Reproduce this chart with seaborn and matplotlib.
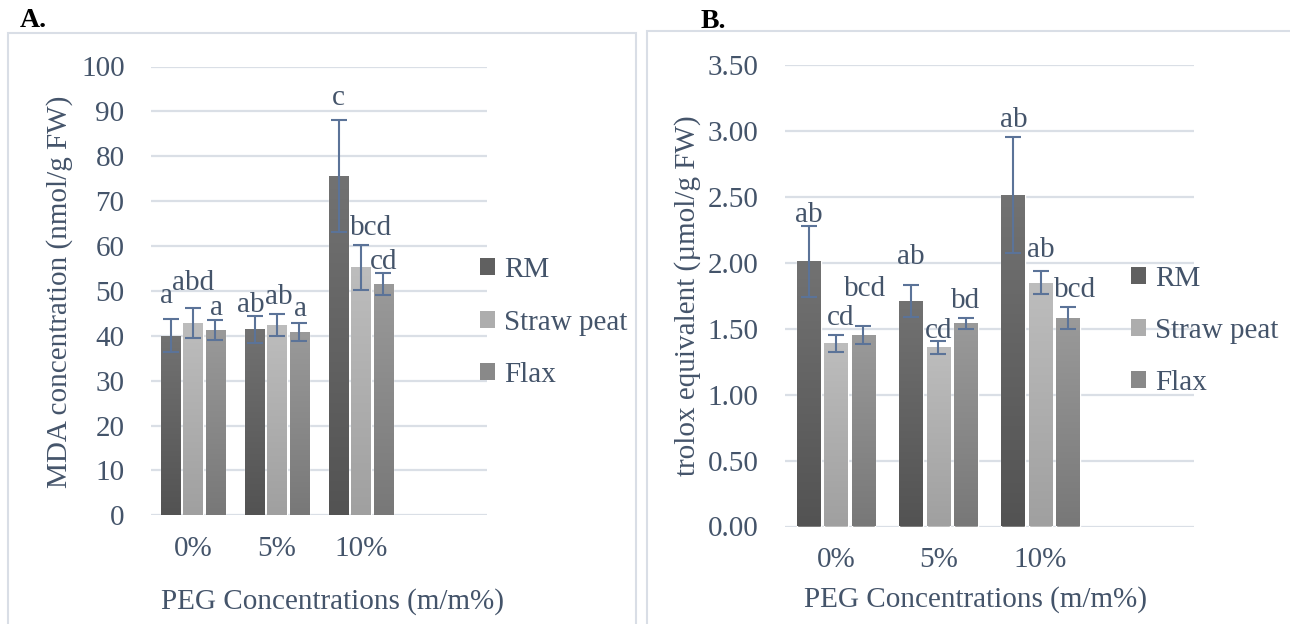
import numpy as np
import pandas as pd
import seaborn as sns
import matplotlib.pyplot as plt
from matplotlib.patches import Patch, Rectangle
from matplotlib.colors import LinearSegmentedColormap

# --- data ---
concentrations = ["0%", "5%", "10%"]
substrates = ["RM", "Straw peat", "Flax"]

mda_rm = [40.0, 41.5, 75.6]
mda_straw = [42.8, 42.4, 55.3]
mda_flax = [41.3, 40.8, 51.5]
mda_rm_err = [3.7, 3.0, 12.5]
mda_straw_err = [3.3, 2.4, 5.0]
mda_flax_err = [2.3, 2.0, 2.4]
mda_letters_rm = ["a", "ab", "c"]
mda_letters_straw = ["abd", "ab", "bcd"]
mda_letters_flax = ["a", "a", "cd"]

tx_rm = [2.01, 1.71, 2.51]
tx_straw = [1.39, 1.36, 1.85]
tx_flax = [1.45, 1.54, 1.58]
tx_rm_err = [0.27, 0.12, 0.44]
tx_straw_err = [0.065, 0.05, 0.09]
tx_flax_err = [0.07, 0.04, 0.085]
tx_letters_rm = ["ab", "ab", "ab"]
tx_letters_straw = ["cd", "cd", "ab"]
tx_letters_flax = ["bcd", "bd", "bcd"]

# small label nudges (pixels, dx, dy-up) so letters sit like the original
mda_nudge = [[(-4, 6), (-4, -6), (0, 5)],
             [(0, 8), (2, 0), (10, 0)],
             [(1, -5), (1, -3), (0, -6)]]
tx_nudge = [[(0, -6), (0, 11), (0, 0)],
            [(5, 0), (0, -7), (0, 4)],
            [(2, 20), (0, 0), (7, 0)]]

TEXT = "#44546A"
GRID = "#DADFE6"
ERR = "#5B7398"
FS = 21
mid_colors = ["#606060", "#adadad", "#898989"]
top_colors = ["#727272", "#bdbdbd", "#9a9a9a"]
bot_colors = ["#535353", "#a0a0a0", "#787878"]

sns.set_style("white")
plt.rcParams["font.family"] = ["Liberation Serif", "DejaVu Serif"]
plt.rcParams["font.size"] = FS
plt.rcParams["text.color"] = TEXT


def make_df(rm, straw, flax):
    rows = []
    for name, vals in zip(substrates, [rm, straw, flax]):
        for c, v in zip(concentrations, vals):
            rows.append({"PEG": c, "Substrate": name, "value": v})
    return pd.DataFrame(rows)


def draw_panel(ax, df, errs, letters, nudges, ymax, step, fmt):
    sns.barplot(data=df, x="PEG", y="value", hue="Substrate",
                order=concentrations, hue_order=substrates,
                palette=mid_colors, errorbar=None, width=0.8, gap=0.13,
                legend=False, ax=ax, zorder=2)
    bar_sets = list(ax.containers)
    for i, cont in enumerate(bar_sets):
        cmap = LinearSegmentedColormap.from_list("g", [bot_colors[i], top_colors[i]])
        for j, p in enumerate(cont.patches):
            x0, w, h = p.get_x(), p.get_width(), p.get_height()
            xc = x0 + w / 2
            im = ax.imshow(np.linspace(0, 1, 100).reshape(-1, 1), cmap=cmap,
                           origin="lower", extent=[x0, x0 + w, 0, h],
                           aspect="auto", zorder=2.1)
            im.set_clip_path(p)
            ax.errorbar(xc, h, yerr=errs[i][j], fmt="none", ecolor=ERR,
                        elinewidth=1.5, capsize=5.5, capthick=1.5, zorder=3)
            dx, dy = nudges[i][j]
            ax.annotate(letters[i][j], (xc, h + errs[i][j]), xytext=(dx, 4 + dy),
                        textcoords="offset pixels", ha="center", va="bottom",
                        color=TEXT, fontsize=FS, zorder=4)
    ax.set_xlim(-0.5, 3.5)
    ax.set_ylim(0, ymax)
    ticks = np.arange(0, ymax + step / 2, step)
    ax.set_yticks(ticks)
    ax.set_yticklabels([fmt.format(t) for t in ticks])
    ax.set_xticks(range(len(concentrations)))
    ax.set_xticklabels(concentrations)
    ax.grid(axis="y", color=GRID, lw=1.6, zorder=0)
    ax.set_axisbelow(True)
    sns.despine(ax=ax, left=True, bottom=True)
    ax.tick_params(axis="both", length=0, colors=TEXT, labelsize=FS)
    ax.tick_params(axis="y", pad=19)
    ax.tick_params(axis="x", pad=15)


fig = plt.figure(figsize=(12.9, 6.24), dpi=100)

# panel frames
fig.add_artist(Rectangle((8 / 1290, -0.05), 628 / 1290, 1.05 - 33 / 624,
                         transform=fig.transFigure, fill=False,
                         edgecolor="#D9DEE6", lw=1.5))
fig.add_artist(Rectangle((647 / 1290, -0.05), 700 / 1290, 1.05 - 31 / 624,
                         transform=fig.transFigure, fill=False,
                         edgecolor="#D9DEE6", lw=1.5))

ax1 = fig.add_axes([151 / 1290, (624 - 515.3) / 624, 336 / 1290, 448.8 / 624])
draw_panel(ax1, make_df(mda_rm, mda_straw, mda_flax),
           [mda_rm_err, mda_straw_err, mda_flax_err],
           [mda_letters_rm, mda_letters_straw, mda_letters_flax],
           mda_nudge, 100, 10, "{:.0f}")
ax1.set_xlabel("PEG Concentrations (m/m%)", color=TEXT, fontsize=FS)
ax1.set_ylabel("MDA concentration (nmol/g FW)", color=TEXT, fontsize=FS)
ax1.xaxis.set_label_coords(0.539, -0.163)
ax1.yaxis.set_label_coords(-0.232, 0.4975)

ax2 = fig.add_axes([785 / 1290, (624 - 526.5) / 624, 409 / 1290, 461.6 / 624])
draw_panel(ax2, make_df(tx_rm, tx_straw, tx_flax),
           [tx_rm_err, tx_straw_err, tx_flax_err],
           [tx_letters_rm, tx_letters_straw, tx_letters_flax],
           tx_nudge, 3.5, 0.5, "{:.2f}")
ax2.set_xlabel("PEG Concentrations (m/m%)", color=TEXT, fontsize=FS)
ax2.set_ylabel("trolox equivalent (µmol/g FW)", color=TEXT, fontsize=FS)
ax2.xaxis.set_label_coords(0.465, -0.128)
ax2.yaxis.set_label_coords(-0.205, 0.499)

handles = [Patch(facecolor=c, edgecolor="none", label=s)
           for c, s in zip(mid_colors, substrates)]
for lx, ly in [(480 / 1290, 1 - 322.5 / 624), (1131 / 1290, 1 - 330.8 / 624)]:
    fig.legend(handles=handles, loc="center left", bbox_to_anchor=(lx, ly),
               frameon=False, fontsize=FS, handlelength=0.52, handleheight=0.52,
               handletextpad=0.3, labelspacing=0.9, borderpad=0,
               borderaxespad=0, labelcolor=TEXT)

fig.text(20 / 1290, 1 - 27 / 624, "A.", fontsize=20, fontweight="bold",
         color="black", va="baseline")
fig.text(701 / 1290, 1 - 28 / 624, "B.", fontsize=20, fontweight="bold",
         color="black", va="baseline")

fig.savefig("out.png", dpi=100)
